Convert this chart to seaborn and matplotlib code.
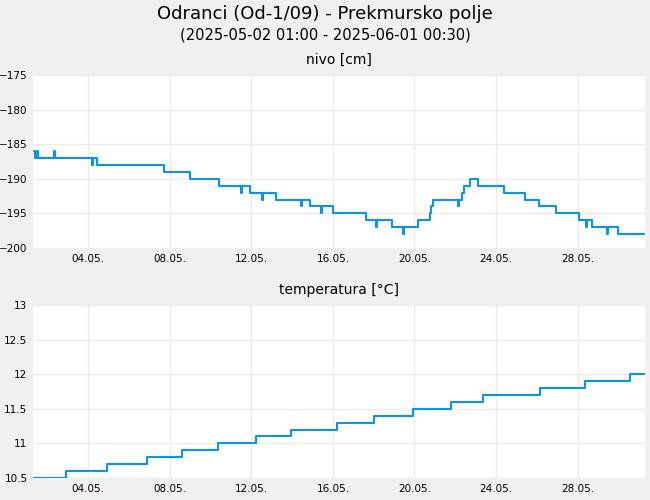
import matplotlib
matplotlib.use("Agg")
import matplotlib.pyplot as plt
import seaborn as sns
import pandas as pd

# time in days of May (fractional), value at each step change
nivo_day = [1.36, 1.41, 1.51, 1.55, 2.34, 2.39, 4.20, 4.24, 4.29, 4.44, 7.72, 8.99,
            10.41, 11.48, 11.53, 11.92, 12.51, 12.56, 13.19, 14.42, 14.51, 14.90,
            15.44, 15.49, 16.03, 17.64, 18.13, 18.18, 18.91, 19.45, 19.50, 20.19,
            20.77, 20.82, 20.92, 22.14, 22.19, 22.34, 22.44, 22.73, 23.12, 24.39,
            25.42, 26.10, 26.93, 28.06, 28.40, 28.45, 28.55, 28.69, 29.43, 29.48,
            29.97, 31.24]
nivo_val = [-186, -187, -186, -187, -186, -187, -188, -187, -187, -188, -189, -190,
            -191, -192, -191, -192, -193, -192, -193, -194, -193, -194,
            -195, -194, -195, -196, -197, -196, -197, -198, -197, -196,
            -195, -194, -193, -194, -193, -192, -191, -190, -191, -192,
            -193, -194, -195, -196, -197, -196, -196, -197, -198, -197,
            -198, -198]

temp_day = [1.30, 2.92, 4.93, 6.89, 8.60, 10.36, 12.22, 13.93, 16.18, 18.03,
            19.94, 21.80, 23.36, 26.15, 28.35, 30.55, 31.30]
temp_val = [10.5, 10.6, 10.7, 10.8, 10.9, 11.0, 11.1, 11.2, 11.3, 11.4,
            11.5, 11.6, 11.7, 11.8, 11.9, 12.0, 12.0]

tick_days = [4, 8, 12, 16, 20, 24, 28]
tick_labels = ["04.05.", "08.05.", "12.05.", "16.05.", "20.05.", "24.05.", "28.05."]

sns.set_theme(style="whitegrid", rc={"grid.color": "#ebebeb", "axes.edgecolor": "white",
                                     "figure.facecolor": "#f0f0f0", "text.color": "black",
                                     "xtick.color": "black", "ytick.color": "black"})
fig = plt.figure(figsize=(6.5, 5), dpi=100)
fig.patch.set_facecolor("#f0f0f0")
ax1 = fig.add_axes([33/650, 252/500, 612/650, 173/500])
ax2 = fig.add_axes([33/650, 22/500, 612/650, 173/500])

line = "#0a94e8"
d1 = pd.DataFrame({"day": nivo_day, "val": nivo_val})
d2 = pd.DataFrame({"day": temp_day, "val": temp_val})
sns.lineplot(data=d1, x="day", y="val", ax=ax1, drawstyle="steps-post", color=line, lw=1.5)
sns.lineplot(data=d2, x="day", y="val", ax=ax2, drawstyle="steps-post", color=line, lw=1.5)

ax1.set_ylim(-200, -175)
ax1.set_yticks(range(-200, -174, 5))
ax2.set_ylim(10.5, 13)
ax2.set_yticks([10.5, 11, 11.5, 12, 12.5, 13])
ax2.set_yticklabels(["10.5", "11", "11.5", "12", "12.5", "13"])

for ax, t in [(ax1, "nivo [cm]"), (ax2, "temperatura [°C]")]:
    ax.set_xlim(1.3, 31.3)
    ax.set_xticks(tick_days)
    ax.set_xticklabels(tick_labels)
    ax.tick_params(labelsize=7.5, length=0, pad=4, colors="black")
    ax.set_xlabel("")
    ax.set_ylabel("")
    ax.set_title(t, fontsize=10, pad=8, color="black")
    for s in ax.spines.values():
        s.set_visible(False)

fig.text(0.5, 0.962, "Odranci (Od-1/09) - Prekmursko polje", ha="center", fontsize=13, color="black")
fig.text(0.5, 0.922, "(2025-05-02 01:00 - 2025-06-01 00:30)", ha="center", fontsize=10.5, color="black")

fig.savefig("out.png", dpi=100, facecolor=fig.get_facecolor())
